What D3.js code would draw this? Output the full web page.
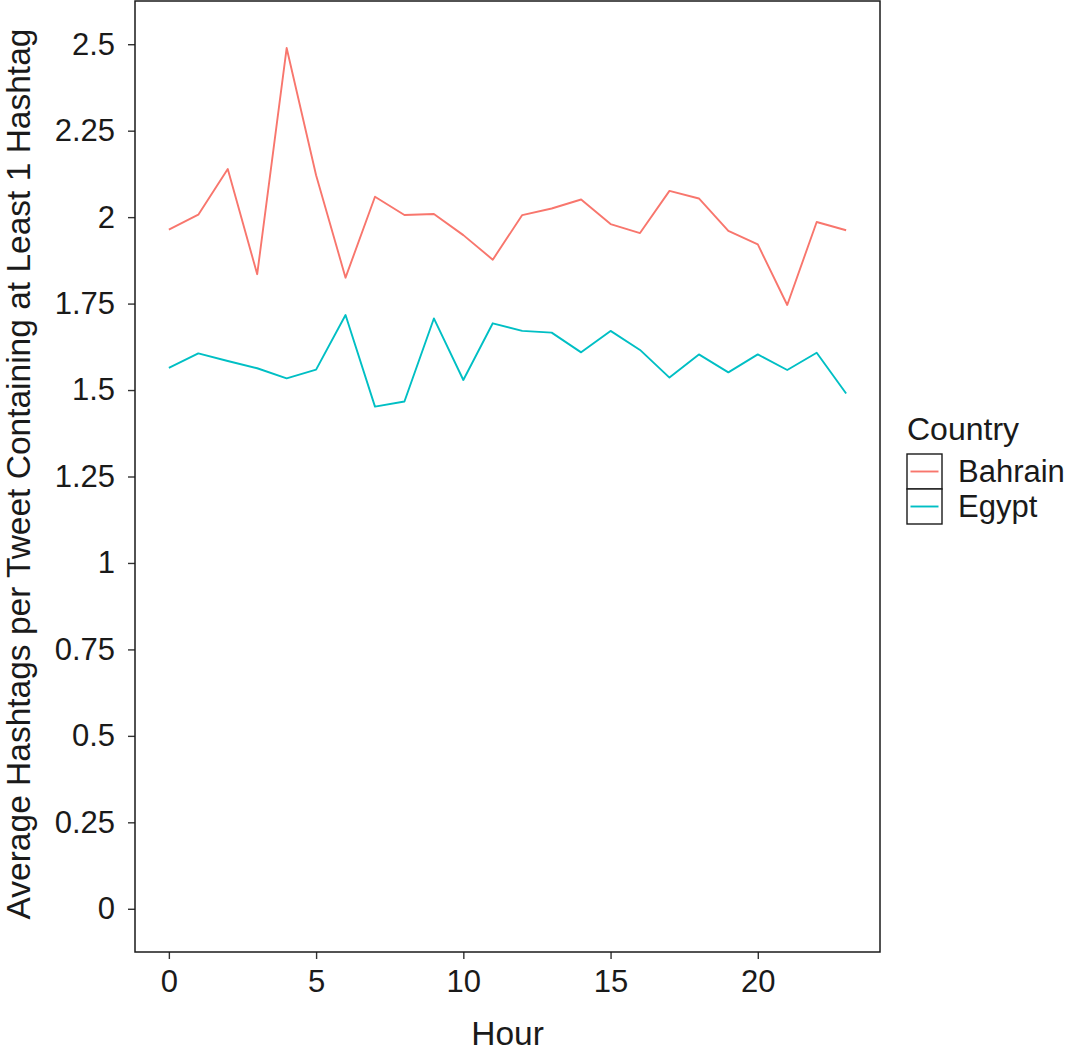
<!DOCTYPE html>
<html>
<head>
<meta charset="utf-8">
<script src="https://cdn.jsdelivr.net/npm/d3@7"></script>
<style>
  body { margin: 0; background: #fff; }
  text { font-family: "Liberation Sans", Arial, sans-serif; fill: #1a1a1a; }
</style>
</head>
<body>
<div id="chart"></div>
<script>
// Data
const hours = d3.range(0, 24);
const bahrain = [1.964, 2.007, 2.139, 1.835, 2.489, 2.121, 1.825, 2.059, 2.006, 2.009, 1.948, 1.877,
                 2.006, 2.025, 2.051, 1.980, 1.954, 2.076, 2.054, 1.960, 1.921, 1.746, 1.986, 1.962];
const egypt = [1.564, 1.606, 1.584, 1.563, 1.534, 1.559, 1.717, 1.452, 1.467, 1.707, 1.529, 1.693,
               1.671, 1.666, 1.609, 1.671, 1.616, 1.536, 1.603, 1.551, 1.603, 1.558, 1.608, 1.490];
const countries = ["Bahrain", "Egypt"];
const colors = ["#F8766D", "#00BFC4"];
const xTicks = [0, 5, 10, 15, 20];
const yTicks = [0, 0.25, 0.5, 0.75, 1, 1.25, 1.5, 1.75, 2, 2.25, 2.5];

const width = 1070, height = 1054;
const panel = { left: 135, right: 880, top: 1, bottom: 952 };

const svg = d3.select("#chart")
    .append("svg")
    .attr("width", width)
    .attr("height", height);

const x = d3.scaleLinear().domain([-1.15, 24.15]).range([panel.left, panel.right]);
const y = d3.scaleLinear().domain([-0.125, 2.625]).range([panel.bottom, panel.top]);

const series = [bahrain, egypt];

const line = d3.line()
    .x((d, i) => x(hours[i]))
    .y(d => y(d));

// Lines
svg.selectAll(".series")
    .data(series)
    .enter()
    .append("path")
    .attr("d", line)
    .style("fill", "none")
    .style("stroke", (d, i) => colors[i])
    .style("stroke-width", 1.9)
    .style("stroke-linejoin", "round");

// Axes
const fmt = d => String(d);
const xAxis = svg.append("g")
    .attr("transform", `translate(0, ${panel.bottom})`)
    .call(d3.axisBottom(x).tickValues(xTicks).tickFormat(fmt).tickSize(7).tickPadding(11));
const yAxis = svg.append("g")
    .attr("transform", `translate(${panel.left}, 0)`)
    .call(d3.axisLeft(y).tickValues(yTicks).tickFormat(fmt).tickSize(7).tickPadding(13));

[xAxis, yAxis].forEach(ax => {
    ax.select(".domain").remove();
    ax.selectAll(".tick line").style("stroke", "#333").style("stroke-width", 1.4);
    ax.selectAll(".tick text")
        .style("font-size", "31px")
        .style("font-family", "'Liberation Sans', Arial, sans-serif")
        .style("fill", "#1a1a1a");
});

// Panel border
svg.append("rect")
    .attr("x", panel.left)
    .attr("y", panel.top)
    .attr("width", panel.right - panel.left)
    .attr("height", panel.bottom - panel.top)
    .style("fill", "none")
    .style("stroke", "#1a1a1a")
    .style("stroke-width", 1.5);

// Axis titles
svg.append("text")
    .attr("x", (panel.left + panel.right) / 2)
    .attr("y", 1045)
    .attr("text-anchor", "middle")
    .style("font-size", "33.5px")
    .text("Hour");

svg.append("text")
    .attr("transform", "translate(30, 474) rotate(-90)")
    .attr("text-anchor", "middle")
    .style("font-size", "33.5px")
    .text("Average Hashtags per Tweet Containing at Least 1 Hashtag");

// Legend
const legend = svg.append("g").attr("transform", "translate(907, 454)");

legend.append("text")
    .attr("x", 0)
    .attr("y", -14)
    .style("font-size", "32px")
    .text("Country");

const keys = legend.selectAll(".key")
    .data(countries)
    .enter()
    .append("g")
    .attr("transform", (d, i) => `translate(0, ${i * 35})`);

keys.append("rect")
    .attr("width", 35)
    .attr("height", 35)
    .style("fill", "#fff")
    .style("stroke", "#1a1a1a")
    .style("stroke-width", 1.4);

keys.append("line")
    .attr("x1", 3.5)
    .attr("x2", 31.5)
    .attr("y1", 17.5)
    .attr("y2", 17.5)
    .style("stroke", (d, i) => colors[i])
    .style("stroke-width", 1.9);

keys.append("text")
    .attr("x", 51)
    .attr("y", 17.5)
    .attr("dy", "0.35em")
    .style("font-size", "31px")
    .text(d => d);
</script>
</body>
</html>
